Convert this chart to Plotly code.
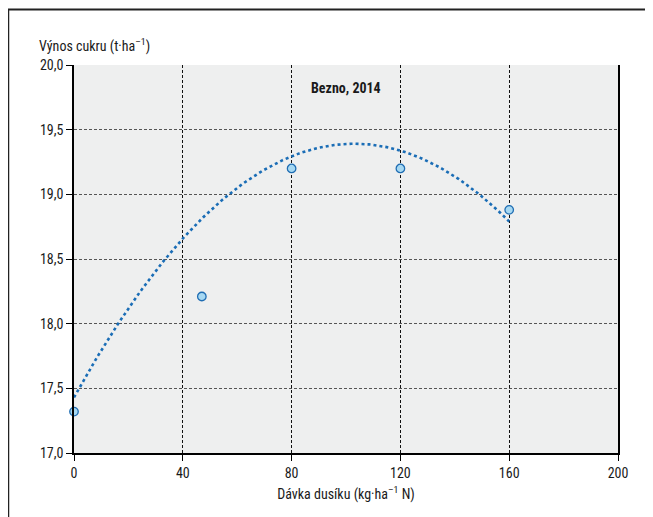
import numpy as np
import plotly.graph_objects as go

# Data
nitrogen_dose = [0, 47, 80, 120, 160]
sugar_yield = [17.32, 18.21, 19.20, 19.20, 18.88]

# Quadratic trend coefficients (a + b*x + c*x^2)
trend_coef = [17.43, 0.0381, -0.000185]
trend_x_range = [0, 160]

x_tickvals = [0, 40, 80, 120, 160, 200]
x_ticktext = ["0", "40", "80", "120", "160", "200"]
y_tickvals = [17.0, 17.5, 18.0, 18.5, 19.0, 19.5, 20.0]
y_ticktext = ["17,0", "17,5", "18,0", "18,5", "19,0", "19,5", "20,0"]

FONT = "Liberation Sans Narrow, Roboto Condensed, DejaVu Sans Condensed, Arial Narrow, sans-serif"
FS = 14

W, H = 653, 517
OFF = 8  # page body offset in the screenshot
L, T = 74 - OFF, 65 - OFF
R, B = W - (618 - OFF), H - (453 - OFF)
PW, PH = W - L - R, H - T - B

def px_x(x):
    return (x - OFF - L) / PW

def px_y(y):
    return 1 - (y - OFF - T) / PH

tx = np.linspace(trend_x_range[0], trend_x_range[1], 200)
ty = trend_coef[0] + trend_coef[1] * tx + trend_coef[2] * tx ** 2

fig = go.Figure()
fig.add_trace(go.Scatter(x=tx, y=ty, mode="lines",
                         line=dict(color="#1a6db6", width=2.6, dash="dot"),
                         hoverinfo="skip", showlegend=False))
fig.add_trace(go.Scatter(x=nitrogen_dose, y=sugar_yield, mode="markers",
                         marker=dict(size=8.5, color="#a6d8f2",
                                     line=dict(color="#1f6db3", width=1.3)),
                         showlegend=False, cliponaxis=False))

fig.update_layout(
    width=W, height=H,
    margin=dict(l=L, r=R, t=T, b=B, autoexpand=False),
    paper_bgcolor="white",
    plot_bgcolor="#eeefef",
    font=dict(family=FONT, size=FS, color="#1a1a1a"),
    xaxis=dict(range=[0, 200], tickvals=x_tickvals, ticktext=x_ticktext,
               showgrid=True, gridcolor="#111", gridwidth=1, griddash="3px,2px",
               zeroline=False, showline=True, linecolor="black", linewidth=1.5,
               ticks="outside", ticklen=6, tickcolor="black",
               tickfont=dict(size=FS, family=FONT),
               title=dict(text="Dávka dusíku (kg·ha<sup>–1</sup> N)", standoff=10,
                          font=dict(size=FS, family=FONT))),
    yaxis=dict(range=[17.0, 20.0], tickvals=y_tickvals, ticktext=y_ticktext,
               showgrid=True, gridcolor="#555", gridwidth=1, griddash="3px,2px",
               zeroline=False, showline=True, linecolor="black", linewidth=1.5,
               mirror=True, ticks="outside", ticklen=6, tickcolor="black",
               tickfont=dict(size=FS, family=FONT)),
    annotations=[
        dict(x=100, y=19.82, xref="x", yref="y", text="<b>Bezno, 2014</b>",
             showarrow=False, font=dict(size=FS, family=FONT, color="#1a1a1a")),
        dict(x=px_x(37), y=px_y(46), xref="paper", yref="paper",
             text="Výnos cukru (t·ha<sup>–1</sup>)",
             showarrow=False, xanchor="left", yanchor="middle",
             font=dict(size=FS, family=FONT, color="#1a1a1a")),
    ],
)

# Outer frame (top and left edges visible)
fig.add_shape(type="line", xref="paper", yref="paper",
              x0=px_x(8), x1=px_x(W + 20), y0=px_y(9.5), y1=px_y(9.5),
              line=dict(color="#222", width=2))
fig.add_shape(type="line", xref="paper", yref="paper",
              x0=px_x(8.5), x1=px_x(8.5), y0=px_y(9), y1=px_y(H + 20),
              line=dict(color="#222", width=1.5))

fig.write_html("out.html")
